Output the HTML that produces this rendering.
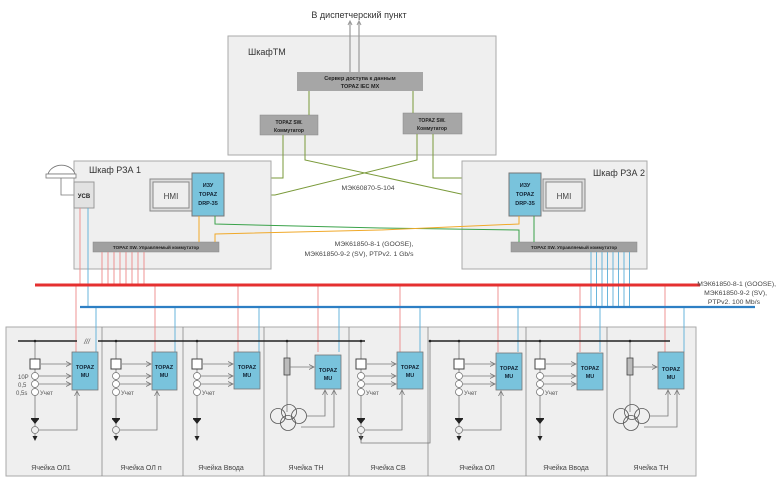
<!DOCTYPE html>
<html><head><meta charset="utf-8"><style>
html,body{margin:0;padding:0;background:#fff}
svg{display:block;font-family:"Liberation Sans",sans-serif}
</style></head><body>
<svg id="s" width="780" height="481" viewBox="0 0 780 481" xmlns="http://www.w3.org/2000/svg">
<defs>
<marker id="a" markerWidth="6" markerHeight="6" refX="5" refY="3" orient="auto" markerUnits="userSpaceOnUse"><path d="M0,0.5 L5,3 L0,5.5" fill="none" stroke="#777" stroke-width="0.8"/></marker>
</defs>
<text x="359" y="18" font-size="9" text-anchor="middle" fill="#333">В диспетчерский пункт</text>
<rect x="228" y="36" width="268" height="119" fill="#efefef" stroke="#aaa"/>
<text x="248" y="55" font-size="9" fill="#333">ШкафТМ</text>
<line x1="350" y1="72" x2="350" y2="22" stroke="#999" stroke-width="1.2"/>
<line x1="359" y1="72" x2="359" y2="22" stroke="#999" stroke-width="1.2"/>
<path d="M348,25 L350,21 L352,25 M357,25 L359,21 L361,25" fill="none" stroke="#999"/>
<rect x="297" y="72" width="126" height="19" fill="#a6a6a6"/>
<text x="360" y="80" font-size="5.5" font-weight="bold" text-anchor="middle" fill="#222">Сервер доступа к данным</text>
<text x="360" y="88" font-size="5.5" font-weight="bold" text-anchor="middle" fill="#222">TOPAZ IEC MX</text>
<rect x="260" y="115" width="58" height="20" fill="#a6a6a6" stroke="#888" stroke-width="0.5"/>
<text x="289" y="124" font-size="5" font-weight="bold" text-anchor="middle" fill="#222">TOPAZ SW.</text>
<text x="289" y="132" font-size="5" font-weight="bold" text-anchor="middle" fill="#222">Коммутатор</text>
<rect x="403" y="113" width="59" height="21" fill="#a6a6a6" stroke="#888" stroke-width="0.5"/>
<text x="432" y="122" font-size="5" font-weight="bold" text-anchor="middle" fill="#222">TOPAZ SW.</text>
<text x="432" y="130" font-size="5" font-weight="bold" text-anchor="middle" fill="#222">Коммутатор</text>
<g stroke="#7a9a3a" stroke-width="1" fill="none">
<line x1="309" y1="91" x2="309" y2="115"/><line x1="413" y1="91" x2="413" y2="113"/>
<polyline points="283,135 283,178 224,178"/>
<polyline points="305,135 305,160 461,194 509,194"/>
<polyline points="417,134 417,160 275,195 224,195"/>
<polyline points="433,134 433,178 509,178"/>
</g>
<text x="368" y="190" font-size="6.8" text-anchor="middle" fill="#444">МЭК60870-5-104</text>
<rect x="74" y="161" width="197" height="108" fill="#efefef" stroke="#aaa"/>
<text x="89" y="173" font-size="9" fill="#333">Шкаф РЗА 1</text>
<path d="M48,174 A14,12 0 0 1 75,174 Z" fill="#fff" stroke="#777" stroke-width="0.8"/>
<rect x="46" y="174" width="30" height="4" fill="#fff" stroke="#777" stroke-width="0.8"/>
<polyline points="61,178 61,195 74,195" fill="none" stroke="#777" stroke-width="0.8"/>
<rect x="74" y="182" width="20" height="26" fill="#e2e2e2" stroke="#999"/>
<text x="84" y="198" font-size="6" font-weight="bold" text-anchor="middle" fill="#222">УСВ</text>
<rect x="150" y="179" width="42" height="32" fill="#ddd" stroke="#888"/>
<rect x="153" y="182" width="36" height="26" fill="#eee" stroke="#888"/>
<text x="171" y="199" font-size="8" text-anchor="middle" fill="#444">HMI</text>
<rect x="192" y="173" width="32" height="43" fill="#79c3dc" stroke="#777"/>
<text x="208" y="187" font-size="5.5" font-weight="bold" text-anchor="middle" fill="#123">ИЗУ</text>
<text x="208" y="196" font-size="5.5" font-weight="bold" text-anchor="middle" fill="#123">TOPAZ</text>
<text x="208" y="205" font-size="5.5" font-weight="bold" text-anchor="middle" fill="#123">DRP-35</text>
<rect x="93" y="242" width="126" height="10" fill="#a0a0a0" stroke="#888" stroke-width="0.5"/>
<text x="156" y="249" font-size="4.6" font-weight="bold" text-anchor="middle" fill="#222">TOPAZ SW. Управляемый коммутатор</text>
<rect x="462" y="161" width="185" height="108" fill="#efefef" stroke="#aaa"/>
<text x="645" y="176" font-size="9" text-anchor="end" fill="#333">Шкаф РЗА 2</text>
<rect x="543" y="179" width="42" height="32" fill="#ddd" stroke="#888"/>
<rect x="546" y="182" width="36" height="26" fill="#eee" stroke="#888"/>
<text x="564" y="199" font-size="8" text-anchor="middle" fill="#444">HMI</text>
<rect x="509" y="173" width="32" height="43" fill="#79c3dc" stroke="#777"/>
<text x="525" y="187" font-size="5.5" font-weight="bold" text-anchor="middle" fill="#123">ИЗУ</text>
<text x="525" y="196" font-size="5.5" font-weight="bold" text-anchor="middle" fill="#123">TOPAZ</text>
<text x="525" y="205" font-size="5.5" font-weight="bold" text-anchor="middle" fill="#123">DRP-35</text>
<rect x="511" y="242" width="126" height="10" fill="#a0a0a0" stroke="#888" stroke-width="0.5"/>
<text x="574" y="249" font-size="4.6" font-weight="bold" text-anchor="middle" fill="#222">TOPAZ SW. Управляемый коммутатор</text>
<g fill="none" stroke-width="1">
<polyline points="215,216 215,224 380,228 519,230 519,242" stroke="#3aa24a"/>
<line x1="534" y1="216" x2="534" y2="242" stroke="#3aa24a"/>
<line x1="199" y1="216" x2="199" y2="242" stroke="#f0a92a"/>
<polyline points="215,242 215,234 380,230 519,224 519,216" stroke="#f0a92a"/>
</g>
<text x="374" y="246" font-size="6.8" text-anchor="middle" fill="#444">МЭК61850-8-1 (GOOSE),</text>
<text x="359" y="256" font-size="6.8" text-anchor="middle" fill="#444">МЭК61850-9-2 (SV), PTPv2. 1 Gb/s</text>
<rect x="6" y="327" width="690" height="149" fill="#efefef" stroke="#aaa"/>
<g stroke="#888" stroke-width="0.8">
<line x1="102" y1="327" x2="102" y2="476"/><line x1="183" y1="327" x2="183" y2="476"/>
<line x1="264" y1="327" x2="264" y2="476"/><line x1="349" y1="327" x2="349" y2="476"/>
<line x1="428" y1="327" x2="428" y2="476"/><line x1="526" y1="327" x2="526" y2="476"/>
<line x1="607" y1="327" x2="607" y2="476"/>
</g>
<g id="net"></g>
<line x1="35" y1="285" x2="700" y2="285" stroke="#e53030" stroke-width="3"/>
<line x1="80" y1="307" x2="755" y2="307" stroke="#2d7fc4" stroke-width="2.2"/>
<text x="776" y="286" font-size="6.8" text-anchor="end" fill="#444">МЭК61850-8-1 (GOOSE),</text>
<text x="767" y="295" font-size="6.8" text-anchor="end" fill="#444">МЭК61850-9-2 (SV),</text>
<text x="760" y="304" font-size="6.8" text-anchor="end" fill="#444">PTPv2. 100 Mb/s</text>
<g stroke="#222" stroke-width="1.5"><line x1="18" y1="341" x2="77" y2="341"/><line x1="98" y1="341" x2="365" y2="341"/><line x1="430" y1="341" x2="670" y2="341"/></g>
<text x="87" y="344" font-size="7" text-anchor="middle" fill="#555" font-style="italic">///</text>
<g id="cells"></g>
<g font-size="6" fill="#555">
<text x="18" y="379">10P</text><text x="18" y="387">0,5</text><text x="16" y="395">0,5s</text>
<text x="40" y="395">Учет</text><text x="121" y="395">Учет</text><text x="202" y="395">Учет</text>
<text x="366" y="395">Учет</text><text x="464" y="395">Учет</text><text x="545" y="395">Учет</text>
</g>
<g font-size="7" fill="#444" text-anchor="middle">
<text x="51" y="470">Ячейка ОЛ1</text><text x="141" y="470">Ячейка ОЛ п</text><text x="221" y="470">Ячейка Ввода</text>
<text x="306" y="470">Ячейка ТН</text><text x="388" y="470">Ячейка СВ</text><text x="477" y="470">Ячейка ОЛ</text>
<text x="566" y="470">Ячейка Ввода</text><text x="651" y="470">Ячейка ТН</text>
</g>
<g id="mus" font-size="5.5" font-weight="bold" fill="#123" text-anchor="middle">
<text x="85" y="369">TOPAZ</text><text x="85" y="377">MU</text>
<text x="164" y="369">TOPAZ</text><text x="164" y="377">MU</text>
<text x="247" y="369">TOPAZ</text><text x="247" y="377">MU</text>
<text x="328" y="372">TOPAZ</text><text x="328" y="380">MU</text>
<text x="410" y="369">TOPAZ</text><text x="410" y="377">MU</text>
<text x="509" y="370">TOPAZ</text><text x="509" y="378">MU</text>
<text x="590" y="370">TOPAZ</text><text x="590" y="378">MU</text>
<text x="671" y="371">TOPAZ</text><text x="671" y="379">MU</text>
</g>
</svg>
<script>
var NS="http://www.w3.org/2000/svg";
function el(p,t,a){var e=document.createElementNS(NS,t);for(var k in a)e.setAttribute(k,a[k]);p.appendChild(e);return e;}
var net=document.getElementById("net"),cells=document.getElementById("cells"),s=document.getElementById("s");
var mus=document.getElementById("mus");
var reds=[76,155,238,318,400,498,580,665],blues=[96,175,259,339,420,518,600,684];
reds.forEach(function(x){el(net,"line",{x1:x,y1:285,x2:x,y2:352,stroke:"#e88","stroke-width":0.9});});
blues.forEach(function(x){el(net,"line",{x1:x,y1:307,x2:x,y2:352,stroke:"#5aaed8","stroke-width":0.9});});
el(net,"line",{x1:80,y1:208,x2:80,y2:285,stroke:"#e88","stroke-width":0.9});
el(net,"line",{x1:88,y1:208,x2:88,y2:307,stroke:"#5aaed8","stroke-width":0.9});
for(var i=0;i<8;i++){var x=102+i*6;el(net,"line",{x1:x,y1:252,x2:x,y2:285,stroke:"#e88","stroke-width":0.9});}
for(var i=0;i<8;i++){var x=591+i*5.5;el(net,"line",{x1:x,y1:252,x2:x,y2:307,stroke:"#5aaed8","stroke-width":0.9});}
var mub=[[72,352,26,38],[152,352,25,38],[234,352,26,37],[315,355,26,34],[397,352,26,37],[496,353,26,37],[577,353,26,37],[658,352,26,37]];
mub.forEach(function(b){el(cells,"rect",{x:b[0],y:b[1],width:b[2],height:b[3],fill:"#79c3dc",stroke:"#777","stroke-width":0.8});});
var g="#777";
function line(a,b,c,d,m){var o={x1:a,y1:b,x2:c,y2:d,stroke:g,"stroke-width":0.8};if(m)o["marker-end"]="url(#a)";el(cells,"line",o);}
function pl(pts,m){var o={points:pts,fill:"none",stroke:g,"stroke-width":0.8};if(m)o["marker-end"]="url(#a)";el(cells,"polyline",o);}
function ol(bx,mx,bottom,mbot){
 line(bx,341,bx,436);
 el(cells,"circle",{cx:bx,cy:341,r:1.3,fill:"#222"});
 el(cells,"rect",{x:bx-5,y:359,width:10,height:10,fill:"#fff",stroke:"#444","stroke-width":1});
 line(bx+6,364,mx-1,364,1);
 [376,384,392].forEach(function(y){el(cells,"circle",{cx:bx,cy:y,r:3.5,fill:"#fff",stroke:g,"stroke-width":0.8});});
 line(bx+4,376,mx-1,376,1);line(bx+4,384,mx-1,384,1);
 el(cells,"path",{d:"M"+(bx-4)+",419 L"+(bx+4)+",419 L"+bx+",424 Z",fill:"#222"});
 el(cells,"rect",{x:bx-4,y:418,width:8,height:1.5,fill:"#222"});
 el(cells,"path",{d:"M"+(bx-2.5)+",436 L"+(bx+2.5)+",436 L"+bx+",441 Z",fill:"#222"});
 if(bottom){el(cells,"circle",{cx:bx,cy:430,r:3.5,fill:"#efefef",stroke:g,"stroke-width":0.8});
  pl((bx+4)+",430 "+(mx+5)+",430 "+(mx+5)+","+(mbot+1),1);}
}
ol(35,72,1,390);ol(116,152,1,390);ol(197,234,0,389);ol(361,397,1,389);ol(459,496,1,390);ol(540,577,0,390);
pl("361,433 361,443 430,443 430,341");
el(cells,"circle",{cx:430,cy:341,r:1.3,fill:"#222"});
function tn(bx,mx,my,mb){
 line(bx,341,bx,412);el(cells,"circle",{cx:bx,cy:341,r:1.3,fill:"#222"});
 el(cells,"rect",{x:bx-3,y:358,width:6,height:17,fill:"#bbb",stroke:"#444","stroke-width":0.8});
 line(bx+3,367,mx-1,367,1);
 [[bx-9,416],[bx+2,412],[bx+12,416],[bx+1,423]].forEach(function(c){el(cells,"circle",{cx:c[0],cy:c[1],r:7.5,fill:"none",stroke:"#555","stroke-width":0.8});});
 pl((bx+19)+",416 "+(mx+10)+",416 "+(mx+10)+","+(mb+1),1);
 pl((bx+14)+",427 "+(mx+19)+",427 "+(mx+19)+","+(mb+1),1);
}
tn(287,315,355,389);tn(630,658,352,389);
s.appendChild(mus);
</script>
</body></html>
